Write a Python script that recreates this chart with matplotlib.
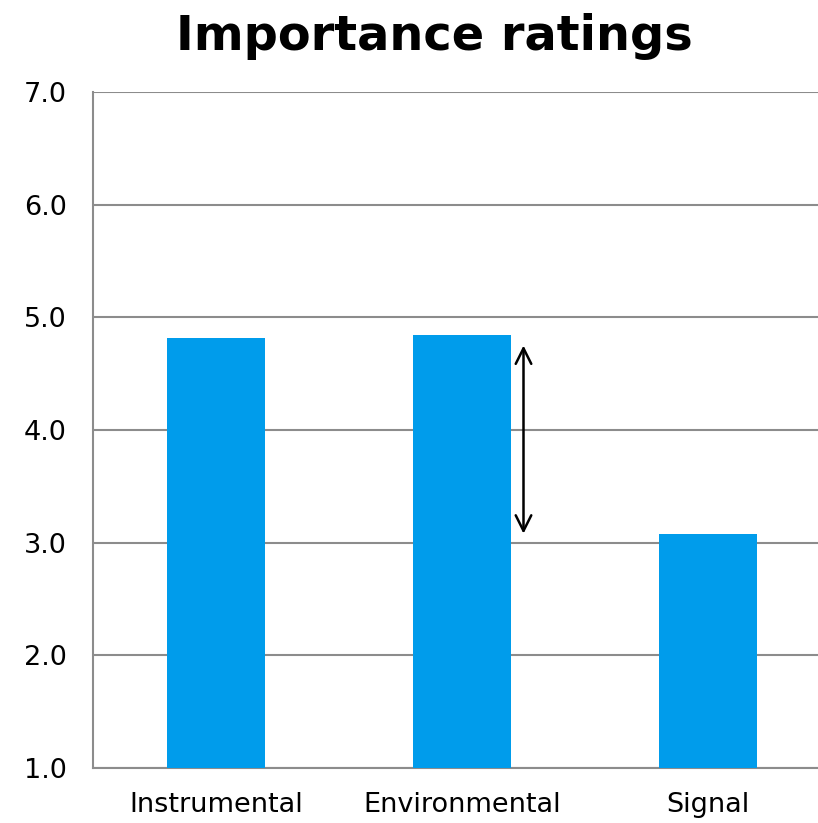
import matplotlib
matplotlib.use("Agg")
import matplotlib.pyplot as plt

categories = ["Instrumental", "Environmental", "Signal"]
ratings = [4.82, 4.84, 3.08]
arrow_top = 4.75
arrow_bottom = 3.08
yticks = [1.0, 2.0, 3.0, 4.0, 5.0, 6.0, 7.0]

W, H = 818, 823
fig = plt.figure(figsize=(W / 100, H / 100), dpi=100)
ax = fig.add_axes([93 / W, 1 - 768 / H, (831 - 93) / W, (768 - 92) / H])

x = list(range(len(categories)))
ax.bar(x, ratings, width=0.4, color="#009CEB", zorder=3, bottom=0)
ax.set_xlim(-0.5, 2.5)
ax.set_ylim(1.0, 7.0)
ax.set_yticks(yticks)
ax.set_yticklabels([f"{v:.1f}" for v in yticks])
ax.set_xticks(x)
ax.set_xticklabels(categories)
ax.yaxis.grid(True, color="#8c8c8c", linewidth=1.5, zorder=0)
ax.set_axisbelow(True)
for s in ["top", "right"]:
    ax.spines[s].set_visible(False)
for s in ["left", "bottom"]:
    ax.spines[s].set_color("#8c8c8c")
    ax.spines[s].set_linewidth(1.5)
ax.tick_params(axis="both", length=0, labelsize=19.5, colors="black")
ax.tick_params(axis="y", pad=19)
ax.tick_params(axis="x", pad=17)

ax.annotate("", xy=(1.25, arrow_top), xytext=(1.25, arrow_bottom),
            arrowprops=dict(arrowstyle="<->", color="black", lw=1.8,
                            mutation_scale=28, shrinkA=0, shrinkB=0), zorder=5)

fig.text(434 / W, 1 - 50 / H, "Importance ratings", ha="center", va="baseline",
         fontsize=34.5, fontweight="bold")

fig.savefig("out.png", dpi=100)
